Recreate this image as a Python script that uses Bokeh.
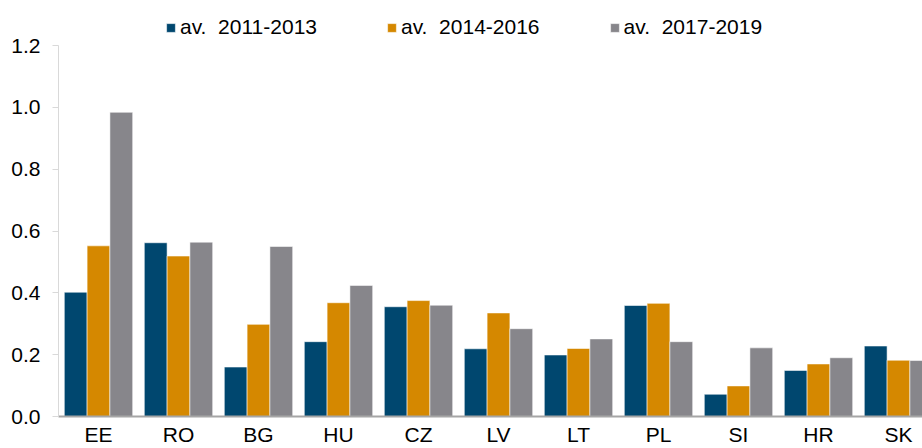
from bokeh.plotting import figure
from bokeh.models import (ColumnDataSource, FixedTicker, Range1d, Legend, LegendItem,
                          NumeralTickFormatter, CustomJSTickFormatter)
from bokeh.transform import dodge
from bokeh.embed import file_html
from bokeh.resources import INLINE

countries = ["EE", "RO", "BG", "HU", "CZ", "LV", "LT", "PL", "SI", "HR", "SK"]
av_2011_2013 = [0.402, 0.562, 0.160, 0.242, 0.355, 0.219, 0.199, 0.359, 0.072, 0.149, 0.228]
av_2014_2016 = [0.552, 0.519, 0.298, 0.368, 0.375, 0.335, 0.220, 0.366, 0.099, 0.170, 0.182]
av_2017_2019 = [0.984, 0.564, 0.550, 0.424, 0.360, 0.284, 0.251, 0.242, 0.222, 0.190, 0.181]
series_labels = ["av.\u00a0 2011-2013", "av.\u00a0 2014-2016", "av.\u00a0 2017-2019"]
series_colors = ["#00476F", "#D58800", "#87868B"]
y_ticks = [0.0, 0.2, 0.4, 0.6, 0.8, 1.0, 1.2]

FONT = "Liberation Sans"
FS = "21px"

# layout geometry (pixels)
W, H = 922, 448
BORDER_LEFT, BORDER_BOTTOM = 58, 32
FRAME_H = H - BORDER_BOTTOM          # frame spans from top of figure to the x axis
AXIS_TOP_PX = 45                     # pixel row where the 1.2 tick sits
y_top = max(y_ticks) * FRAME_H / (FRAME_H - AXIS_TOP_PX)

src = ColumnDataSource(dict(
    x=[i + 0.5 for i in range(len(countries))],
    a=av_2011_2013, b=av_2014_2016, c=av_2017_2019,
))

p = figure(width=W, height=H, output_backend="svg", toolbar_location=None,
           x_range=Range1d(0, 10.8), y_range=Range1d(0, y_top),
           min_border_left=BORDER_LEFT, min_border_right=0, min_border_top=0,
           min_border_bottom=BORDER_BOTTOM)
p.outline_line_color = None
p.xgrid.visible = False
p.ygrid.visible = False
p.background_fill_color = "white"
p.border_fill_color = "white"

bw = 0.285
renderers = []
for col, off, color in zip(["a", "b", "c"], [-bw, 0, bw], series_colors):
    r = p.vbar(x=dodge("x", off), top=col, bottom=0, width=bw, source=src,
               fill_color=color, line_color="white", line_alpha=0.55, line_width=1)
    renderers.append(r)

# axes
xa = p.xaxis[0]
xa.ticker = FixedTicker(ticks=[i + 0.5 for i in range(len(countries))])
xa.formatter = CustomJSTickFormatter(args=dict(names=countries),
                                     code="return names[Math.floor(tick)] || '';")
xa.major_tick_line_color = None
xa.minor_tick_line_color = None
xa.major_tick_out = 0
xa.major_tick_in = 0
xa.major_label_standoff = 6
xa.axis_line_color = "#A6A6A6"
xa.axis_line_width = 2
xa.major_label_text_font = FONT
xa.major_label_text_font_size = FS
xa.major_label_text_color = "#000000"

ya = p.yaxis[0]
ya.ticker = FixedTicker(ticks=y_ticks)
ya.formatter = NumeralTickFormatter(format="0.0")
ya.bounds = (min(y_ticks), max(y_ticks))
ya.minor_tick_line_color = None
ya.major_tick_out = 6
ya.major_tick_in = 0
ya.major_tick_line_color = "#D9D9D9"
ya.axis_line_color = "#D9D9D9"
ya.major_label_standoff = 12
ya.major_label_text_font = FONT
ya.major_label_text_font_size = FS
ya.major_label_text_color = "#000000"

legend = Legend(items=[LegendItem(label=l, renderers=[r]) for l, r in zip(series_labels, renderers)],
                orientation="horizontal", location=(107, 377),
                glyph_width=11, glyph_height=11, label_standoff=4, spacing=69,
                padding=0, margin=0, border_line_color=None, background_fill_alpha=0,
                label_text_font=FONT, label_text_font_size=FS, label_text_color="#000000")
p.add_layout(legend, "center")

open("out.html", "w").write(file_html(p, INLINE))
